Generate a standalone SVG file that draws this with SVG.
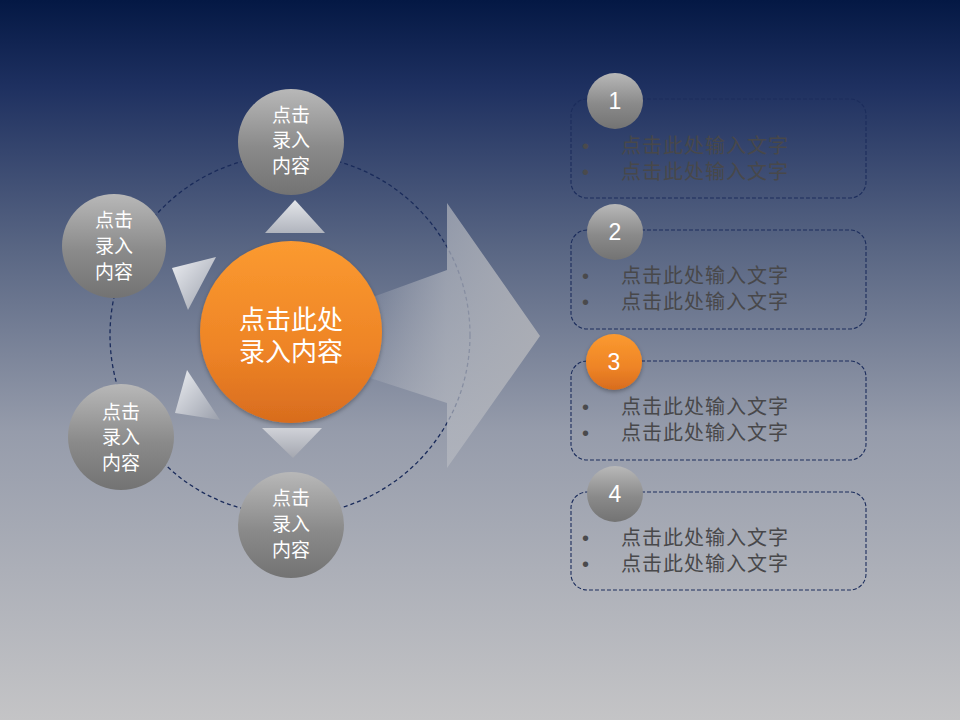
<svg xmlns="http://www.w3.org/2000/svg" width="960" height="720" viewBox="0 0 960 720">
<defs>
<linearGradient id="bg" x1="0" y1="0" x2="0" y2="1">
<stop offset="0" stop-color="#041844"/>
<stop offset="0.12" stop-color="#1e3060"/>
<stop offset="0.35" stop-color="#5a6784"/>
<stop offset="0.6" stop-color="#969cab"/>
<stop offset="1" stop-color="#c4c4c6"/>
</linearGradient>
<linearGradient id="gray" x1="0" y1="0" x2="0" y2="1">
<stop offset="0" stop-color="#b8b8b8"/>
<stop offset="0.55" stop-color="#8a8a8a"/>
<stop offset="1" stop-color="#737373"/>
</linearGradient>
<linearGradient id="orange" x1="0" y1="0" x2="0" y2="1">
<stop offset="0" stop-color="#fb9a30"/>
<stop offset="0.6" stop-color="#ee8426"/>
<stop offset="1" stop-color="#d86c1e"/>
</linearGradient>
<linearGradient id="triUp" x1="0" y1="0" x2="0" y2="1">
<stop offset="0" stop-color="#e4e6ea"/>
<stop offset="1" stop-color="#b0b4bd"/>
</linearGradient>
<linearGradient id="triDown" x1="0" y1="0" x2="0" y2="1">
<stop offset="0" stop-color="#d0d2d8"/>
<stop offset="1" stop-color="#a4a7b0"/>
</linearGradient>
<linearGradient id="triSide" x1="0" y1="0" x2="1" y2="1">
<stop offset="0" stop-color="#eceef2"/>
<stop offset="1" stop-color="#9a9fab"/>
</linearGradient>
<linearGradient id="arrow" gradientUnits="userSpaceOnUse" x1="370" y1="0" x2="540" y2="0">
<stop offset="0" stop-color="#c4c6cc" stop-opacity="0.15"/>
<stop offset="0.45" stop-color="#b8bbc2" stop-opacity="0.65"/>
<stop offset="1" stop-color="#b0b2b8" stop-opacity="0.9"/>
</linearGradient>
<filter id="sh" x="-20%" y="-20%" width="140%" height="140%">
<feDropShadow dx="0" dy="2" stdDeviation="2" flood-color="#000" flood-opacity="0.3"/>
</filter>
</defs>
<style>
.node text{font-family:"Liberation Sans","Noto Sans CJK SC",sans-serif;fill:#fff;text-anchor:middle;}
.small{font-size:19px;}
.big{font-size:26px;}
.num{font-family:"Liberation Sans",Arial,sans-serif;font-size:23px;fill:#fff;text-anchor:middle;}
.panel{fill:none;stroke:#1c2d5c;stroke-width:1.1;stroke-dasharray:4,2;}
.item{font-family:"Liberation Sans","Noto Sans CJK SC",sans-serif;font-size:20px;letter-spacing:1px;fill:#48484a;}
.bul{font-family:"Liberation Sans",sans-serif;font-size:20px;fill:#4a4a4c;}
</style>
<rect width="960" height="720" fill="url(#bg)"/>
<circle cx="290" cy="335" r="180" fill="none" stroke="#1a2b5a" stroke-width="1.3" stroke-dasharray="4,3"/>
<g id="connectors">
<path d="M370,298 L447,270 L447,203 L540,336 L447,468 L447,403 L370,378 Z" fill="url(#arrow)"/>
<polygon points="265,233 325,233 295,200" fill="url(#triUp)"/>
<polygon points="172,268 216,257 188,310" fill="url(#triSide)"/>
<polygon points="187,370 220,420 175,413" fill="url(#triSide)"/>
<polygon points="262,428 322,428 293,458" fill="url(#triDown)"/>
</g>
<g id="center" class="node">
<circle cx="291" cy="332" r="91" fill="url(#orange)" filter="url(#sh)"/>
<text class="big" x="291" y="329">点击此处</text>
<text class="big" x="291" y="361">录入内容</text>
</g>
<g id="node-top" class="node">
<circle cx="291" cy="142" r="53" fill="url(#gray)"/>
<text class="small" x="291" y="122">点击</text>
<text class="small" x="291" y="147">录入</text>
<text class="small" x="291" y="173">内容</text>
</g>
<g id="node-left" class="node">
<circle cx="114" cy="246" r="52" fill="url(#gray)"/>
<text class="small" x="114" y="227">点击</text>
<text class="small" x="114" y="253">录入</text>
<text class="small" x="114" y="279">内容</text>
</g>
<g id="node-lowerleft" class="node">
<circle cx="121" cy="437" r="53" fill="url(#gray)"/>
<text class="small" x="121" y="419">点击</text>
<text class="small" x="121" y="444">录入</text>
<text class="small" x="121" y="470">内容</text>
</g>
<g id="node-bottom" class="node">
<circle cx="291" cy="525" r="53" fill="url(#gray)"/>
<text class="small" x="291" y="505">点击</text>
<text class="small" x="291" y="531">录入</text>
<text class="small" x="291" y="557">内容</text>
</g>
<g id="panel-1">
<rect class="panel" x="571" y="99" width="295" height="99" rx="16"/>
<circle cx="615" cy="101" r="28" fill="url(#gray)"/>
<text class="num" x="615" y="109">1</text>
<text class="bul" x="582" y="153">•</text><text class="item" x="621" y="153">点击此处输入文字</text>
<text class="bul" x="582" y="179">•</text><text class="item" x="621" y="179">点击此处输入文字</text>
</g>
<g id="panel-2">
<rect class="panel" x="571" y="230" width="295" height="99" rx="16"/>
<circle cx="615" cy="232" r="28" fill="url(#gray)"/>
<text class="num" x="615" y="240">2</text>
<text class="bul" x="582" y="283">•</text><text class="item" x="621" y="283">点击此处输入文字</text>
<text class="bul" x="582" y="309">•</text><text class="item" x="621" y="309">点击此处输入文字</text>
</g>
<g id="panel-3">
<rect class="panel" x="571" y="361" width="295" height="99" rx="16"/>
<circle cx="614" cy="362" r="28" fill="url(#orange)" filter="url(#sh)"/>
<text class="num" x="614" y="370">3</text>
<text class="bul" x="582" y="414">•</text><text class="item" x="621" y="414">点击此处输入文字</text>
<text class="bul" x="582" y="440">•</text><text class="item" x="621" y="440">点击此处输入文字</text>
</g>
<g id="panel-4">
<rect class="panel" x="571" y="492" width="295" height="98" rx="16"/>
<circle cx="615" cy="494" r="28" fill="url(#gray)"/>
<text class="num" x="615" y="502">4</text>
<text class="bul" x="582" y="545">•</text><text class="item" x="621" y="545">点击此处输入文字</text>
<text class="bul" x="582" y="571">•</text><text class="item" x="621" y="571">点击此处输入文字</text>
</g>
</svg>
